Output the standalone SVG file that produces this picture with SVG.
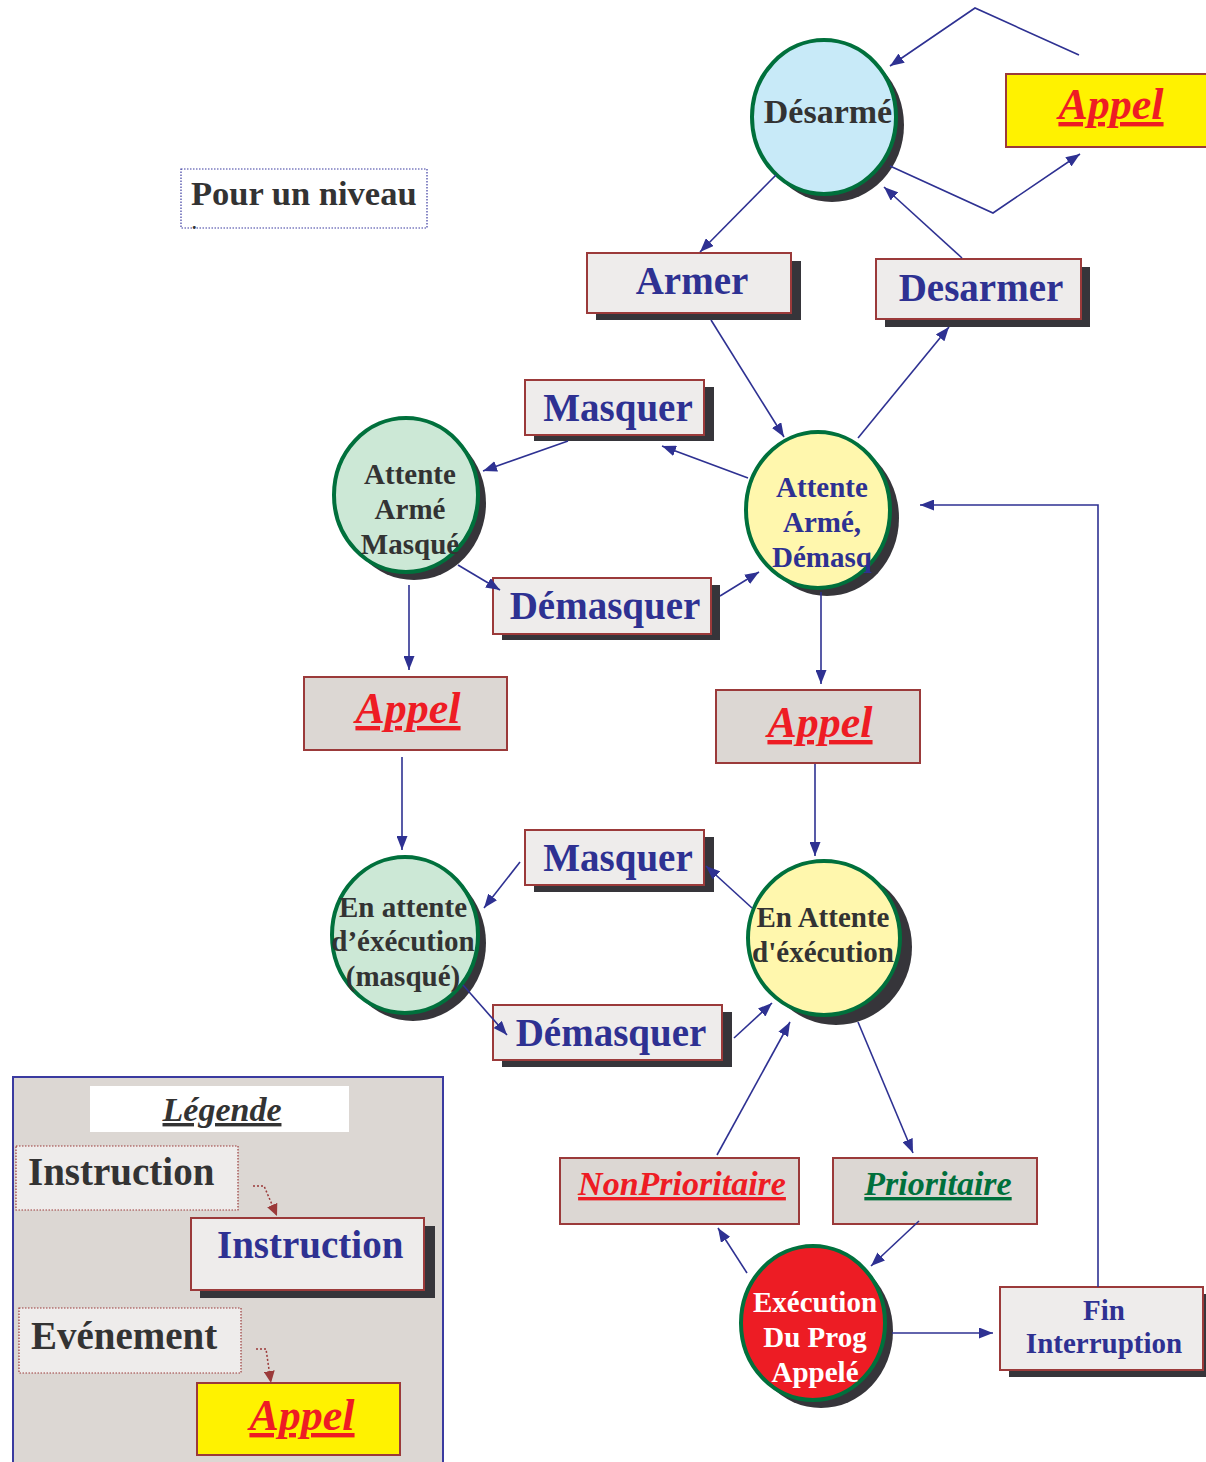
<svg xmlns="http://www.w3.org/2000/svg" width="1206" height="1462" viewBox="0 0 1206 1462">
<defs>
<marker id="ar" markerUnits="userSpaceOnUse" markerWidth="14" markerHeight="11" refX="14" refY="5.5" orient="auto"><path d="M0,0 L14,5.5 L0,11 z" fill="#2e3192"/></marker>
<marker id="ard" markerUnits="userSpaceOnUse" markerWidth="12" markerHeight="11" refX="12" refY="5.5" orient="auto"><path d="M0,0 L12,5.5 L0,11 z" fill="#9b3a3a"/></marker>
</defs>
<style>
text{font-family:"Liberation Serif","Times New Roman",serif;font-weight:bold}
.sh{fill:#36353a}
.box{fill:#eeeceb;stroke:#9b3a3a;stroke-width:2}
.ev{fill:#dcd7d3;stroke:#9b3a3a;stroke-width:2}
.yev{fill:#fff200;stroke:#9b3a3a;stroke-width:2}
.circ{stroke:#00703c;stroke-width:4}
.bt{fill:#2e3192;font-size:39px;text-anchor:middle}
.ct{fill:#333;font-size:29px;text-anchor:middle}
.ctb{fill:#2e3192;font-size:29px;text-anchor:middle}
.ap{fill:#ee1c24;font-size:44px;font-style:italic;text-anchor:middle;text-decoration:underline;text-decoration-thickness:4px}
.conn line,.conn polyline{stroke:#2e3192;stroke-width:1.6;fill:none;marker-end:url(#ar)}
.dl{stroke:#9b3a3a;stroke-width:1.5;stroke-dasharray:2 2;fill:none;marker-end:url(#ard)}
</style>
<rect width="1206" height="1462" fill="#fff"/>

<g id="pour-un-niveau">
<rect x="181" y="169" width="246" height="59" fill="#fff" stroke="#3b3ba0" stroke-width="1.2" stroke-dasharray="1.5 1.5"/>
<text x="191" y="205" style="fill:#333;font-size:34.5px">Pour un niveau</text>
<text x="192" y="229" style="fill:#333;font-size:18px">.</text>
</g>

<g id="desarme">
<ellipse cx="832" cy="125" rx="72" ry="77" class="sh"/>
<ellipse cx="824" cy="117" rx="72" ry="77" class="circ" fill="#c8eaf8"/>
<text x="828" y="123" class="ct" style="font-size:34px">Désarmé</text>
</g>

<g id="appel-top">
<rect x="1006" y="74" width="210" height="73" class="yev"/>
<text x="1111" y="119" class="ap">Appel</text>
</g>

<g id="armer">
<rect x="596" y="261" width="205" height="59" class="sh"/>
<rect x="587" y="253" width="204" height="60" class="box"/>
<text x="692" y="294" class="bt">Armer</text>
</g>

<g id="desarmer">
<rect x="885" y="267" width="205" height="60" class="sh"/>
<rect x="876" y="259" width="205" height="60" class="box"/>
<text x="981" y="301" class="bt">Desarmer</text>
</g>

<g id="masquer-1">
<rect x="534" y="387" width="180" height="54" class="sh"/>
<rect x="525" y="380" width="179" height="55" class="box"/>
<text x="618" y="421" class="bt">Masquer</text>
</g>

<g id="attente-arme-masque">
<ellipse cx="414" cy="503" rx="72" ry="77" class="sh"/>
<ellipse cx="406" cy="495" rx="72" ry="77" class="circ" fill="#cce8d6"/>
<text x="410" y="484" class="ct">Attente</text>
<text x="410" y="519" class="ct">Armé</text>
<text x="410" y="554" class="ct">Masqué</text>
</g>

<g id="attente-arme-demasque">
<ellipse cx="827" cy="518" rx="72" ry="78" class="sh"/>
<ellipse cx="818" cy="510" rx="72" ry="78" class="circ" fill="#fff7ad"/>
<text x="822" y="497" class="ctb">Attente</text>
<text x="822" y="532" class="ctb">Armé,</text>
<text x="822" y="567" class="ctb">Démasq</text>
</g>

<g id="demasquer-1">
<rect x="502" y="585" width="218" height="55" class="sh"/>
<rect x="493" y="578" width="218" height="56" class="box"/>
<text x="605" y="619" class="bt">Démasquer</text>
</g>

<g id="appel-left">
<rect x="304" y="677" width="203" height="73" class="ev"/>
<text x="408" y="723" class="ap">Appel</text>
</g>

<g id="appel-right">
<rect x="716" y="690" width="204" height="73" class="ev"/>
<text x="820" y="737" class="ap">Appel</text>
</g>

<g id="masquer-2">
<rect x="534" y="837" width="180" height="55" class="sh"/>
<rect x="525" y="830" width="179" height="55" class="box"/>
<text x="618" y="871" class="bt">Masquer</text>
</g>

<g id="en-attente-masque">
<ellipse cx="413" cy="943" rx="73" ry="78" class="sh"/>
<ellipse cx="405" cy="935" rx="73" ry="78" class="circ" fill="#cce8d6"/>
<text x="403" y="917" class="ct">En attente</text>
<text x="403" y="951" class="ct">d’éxécution</text>
<text x="403" y="986" class="ct">(masqué)</text>
</g>

<g id="en-attente-execution">
<ellipse cx="836" cy="947" rx="76" ry="78" class="sh"/>
<ellipse cx="824" cy="938" rx="76" ry="77" class="circ" fill="#fff7ad"/>
<text x="823" y="927" class="ct">En Attente</text>
<text x="823" y="962" class="ct">d'éxécution</text>
</g>

<g id="demasquer-2">
<rect x="502" y="1012" width="230" height="55" class="sh"/>
<rect x="493" y="1005" width="229" height="55" class="box"/>
<text x="611" y="1046" class="bt">Démasquer</text>
</g>

<g id="non-prioritaire">
<rect x="560" y="1158" width="239" height="66" class="ev"/>
<text x="682" y="1195" class="ap" style="font-size:34px;text-decoration-thickness:3.5px">NonPrioritaire</text>
</g>

<g id="prioritaire">
<rect x="833" y="1158" width="204" height="66" class="ev"/>
<text x="938" y="1195" class="ap" style="font-size:34px;fill:#00703c;text-decoration-thickness:3.5px">Prioritaire</text>
</g>

<g id="execution">
<ellipse cx="821" cy="1331" rx="72" ry="77" class="sh"/>
<ellipse cx="813" cy="1323" rx="72" ry="77" class="circ" fill="#ed1c24"/>
<text x="815" y="1312" class="ct" style="fill:#fff">Exécution</text>
<text x="815" y="1347" class="ct" style="fill:#fff">Du Prog</text>
<text x="815" y="1382" class="ct" style="fill:#fff">Appelé</text>
</g>

<g id="fin-interruption">
<rect x="1009" y="1294" width="197" height="83" class="sh"/>
<rect x="1000" y="1287" width="203" height="83" class="box"/>
<text x="1104" y="1320" class="bt" style="font-size:29px">Fin</text>
<text x="1104" y="1353" class="bt" style="font-size:29px">Interruption</text>
</g>

<g id="legende">
<rect x="13" y="1077" width="430" height="400" fill="#dcd7d3" stroke="#3b3ba0" stroke-width="2"/>
<rect x="90" y="1086" width="259" height="46" fill="#fff"/>
<text x="222" y="1121" class="ct" style="font-size:34px;font-style:italic;text-decoration:underline;text-decoration-thickness:3.5px">Légende</text>
<rect x="16" y="1146" width="222" height="64" fill="#eeeceb" stroke="#9b3a3a" stroke-width="1.2" stroke-dasharray="1.5 1.5"/>
<text x="28" y="1185" style="fill:#333;font-size:39px">Instruction</text>
<rect x="200" y="1226" width="235" height="72" class="sh"/>
<rect x="191" y="1218" width="233" height="72" class="box"/>
<text x="217" y="1258" style="fill:#2e3192;font-size:39px">Instruction</text>
<rect x="19" y="1308" width="222" height="65" fill="#eeeceb" stroke="#9b3a3a" stroke-width="1.2" stroke-dasharray="1.5 1.5"/>
<text x="31" y="1349" style="fill:#333;font-size:39px">Evénement</text>
<rect x="197" y="1383" width="203" height="72" class="yev"/>
<text x="302" y="1430" class="ap">Appel</text>
<polyline points="253,1186 264,1186 277,1216" class="dl"/>
<polyline points="256,1349 266,1349 271,1383" class="dl"/>
</g>

<g id="connectors" class="conn">
<polyline points="1079,55 975,8 890,66"/>
<polyline points="890,166 993,213 1080,154"/>
<line x1="776" y1="175" x2="700" y2="252"/>
<line x1="962" y1="258" x2="884" y2="187"/>
<line x1="711" y1="320" x2="784" y2="437"/>
<line x1="858" y1="438" x2="949" y2="327"/>
<line x1="748" y1="478" x2="662" y2="446"/>
<line x1="568" y1="441" x2="483" y2="471"/>
<line x1="458" y1="565" x2="500" y2="590"/>
<line x1="720" y1="596" x2="759" y2="572"/>
<line x1="409" y1="585" x2="409" y2="670"/>
<line x1="821" y1="592" x2="821" y2="684"/>
<line x1="402" y1="757" x2="402" y2="850"/>
<line x1="815" y1="764" x2="815" y2="856"/>
<line x1="752" y1="908" x2="706" y2="866"/>
<line x1="520" y1="862" x2="484" y2="908"/>
<line x1="463" y1="985" x2="507" y2="1035"/>
<line x1="734" y1="1038" x2="772" y2="1003"/>
<line x1="717" y1="1155" x2="790" y2="1022"/>
<line x1="858" y1="1022" x2="913" y2="1153"/>
<line x1="747" y1="1273" x2="718" y2="1228"/>
<line x1="919" y1="1221" x2="871" y2="1266"/>
<line x1="892" y1="1333" x2="993" y2="1333"/>
<polyline points="1098,1287 1098,505 920,505"/>
</g>
</svg>
